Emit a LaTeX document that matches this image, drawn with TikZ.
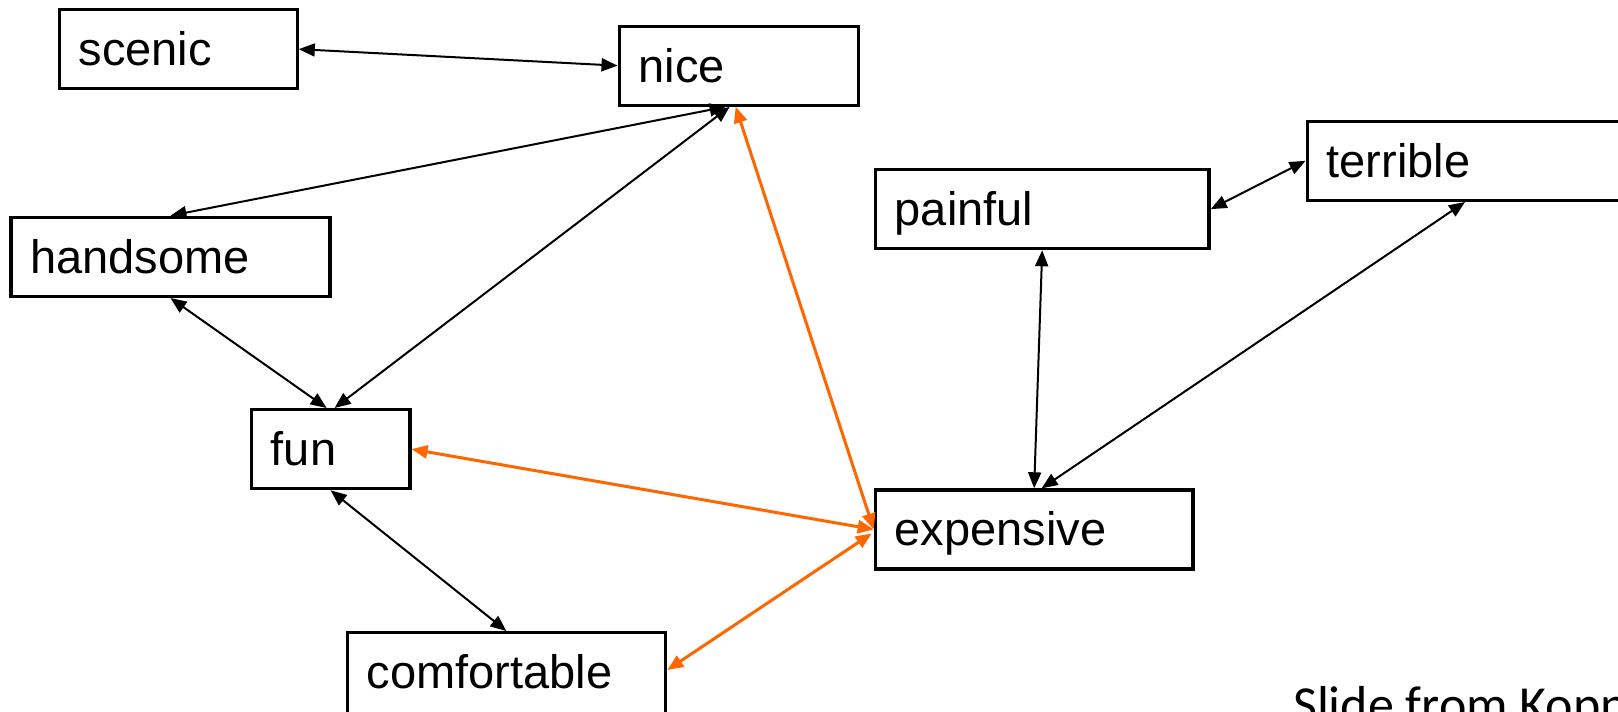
\documentclass[tikz,border=0pt]{standalone}
\usepackage{fontspec}
\setmainfont{Liberation Sans}
\newfontfamily\boxfont{Liberation Sans}
\newfontfamily\slidefont{Carlito}
\usetikzlibrary{arrows.meta,calc}
\definecolor{orng}{RGB}{255,102,0}
\begin{document}
\begin{tikzpicture}[x=1pt,y=-1pt,
  wbox/.style={draw, line width=3.3pt, anchor=north west, inner ysep=0pt, inner xsep=19.5pt,
    text height=56pt, text depth=23pt, align=left, font={\boxfont\fontsize{47}{56}\selectfont}},
  link/.style={line width=2pt, {Triangle[length=16pt,width=13pt]}-{Triangle[length=16pt,width=13pt]}},
  olink/.style={line width=3pt, draw=orng, {Triangle[length=16pt,width=13pt]}-{Triangle[length=16pt,width=13pt]}, fill=orng}
]
\useasboundingbox (0,0) rectangle (1618,712);
\fill[white] (0,0) rectangle (1618,712);
\clip (0,0) rectangle (1618,712);

\node[wbox, text width=199pt] (scenic) at (57.5,8) {scenic};
\node[wbox, text width=200pt] (nice) at (617.5,24.5) {nice};
\node[wbox, text width=280pt] (handsome) at (9.3,215.7) {handsome};
\node[wbox, text width=119.5pt] (fun) at (249.7,408) {fun};
\node[wbox, text width=279.5pt, text depth=33pt] (comfortable) at (345.5,631) {comfortable};
\node[wbox, text width=294.7pt] (painful) at (873.7,168) {painful};
\node[wbox, text width=298pt] (terrible) at (1305.5,119.7) {terrible};
\node[wbox, text width=278.6pt] (expensive) at (873.7,488.3) {expensive};

\node[anchor=base west, inner sep=0pt, font={\slidefont\fontsize{52}{62}\selectfont}] (credit) at (1293,722) {Slide from Kopp};

\draw[link] (scenic.east) -- (nice.west);
\draw[link] (handsome.north) -- ($(nice.south)+(-13,0)$);
\draw[link] (handsome.south) -- ($(fun.north)+(-4,0)$);
\draw[link] ($(fun.north)+(4,0)$) -- ($(nice.south)+(-9,0)$);
\draw[olink] ($(nice.south)+(-3,0)$) -- (expensive.west);
\draw[olink] (fun.east) -- (expensive.west);
\draw[link] (fun.south) -- (comfortable.north);
\draw[olink] ($(comfortable.north east)+(0,39)$) -- ($(expensive.west)+(-2,4)$);
\draw[link] (painful.east) -- (terrible.west);
\draw[link] (painful.south) -- (expensive.north);
\draw[link] ($(terrible.south west)+(159.5,0)$) -- ($(expensive.north)+(7.5,0)$);
\end{tikzpicture}
\end{document}
